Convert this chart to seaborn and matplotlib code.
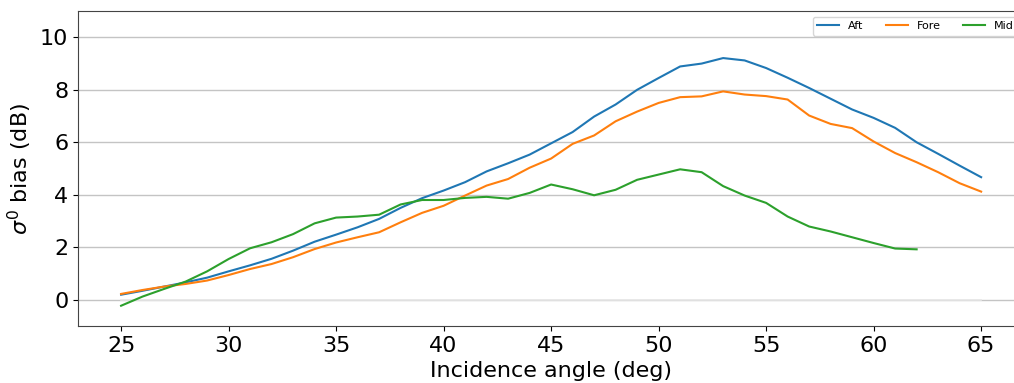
import matplotlib.pyplot as plt
import numpy as np
import pandas as pd
import seaborn as sns

# incidence angles (deg)
angles = list(range(25, 66))

aft = [0.19, 0.34, 0.50, 0.66, 0.84, 1.08, 1.31, 1.56, 1.87, 2.21,
       2.48, 2.76, 3.08, 3.50, 3.87, 4.16, 4.48, 4.89, 5.20, 5.53,
       5.96, 6.39, 6.98, 7.44, 8.00, 8.45, 8.89, 9.00, 9.21, 9.12,
       8.83, 8.46, 8.07, 7.66, 7.25, 6.93, 6.55, 6.00, 5.56, 5.11,
       4.67]
fore = [0.22, 0.37, 0.50, 0.60, 0.73, 0.94, 1.17, 1.36, 1.62, 1.93,
        2.18, 2.38, 2.57, 2.95, 3.31, 3.58, 3.97, 4.35, 4.60, 5.03,
        5.38, 5.94, 6.26, 6.80, 7.17, 7.50, 7.72, 7.75, 7.94, 7.82,
        7.76, 7.63, 7.02, 6.70, 6.54, 6.03, 5.59, 5.24, 4.86, 4.44,
        4.12]
# Mid only goes up to 62 deg
mid = [-0.23, 0.12, 0.41, 0.69, 1.08, 1.55, 1.96, 2.19, 2.50, 2.91,
       3.13, 3.17, 3.24, 3.63, 3.80, 3.80, 3.88, 3.92, 3.85, 4.07,
       4.39, 4.21, 3.98, 4.19, 4.57, 4.77, 4.97, 4.86, 4.33, 3.97,
       3.69, 3.17, 2.79, 2.60, 2.38, 2.16, 1.95, 1.92]

rows = []
for name, vals in [("Aft", aft), ("Fore", fore), ("Mid", mid)]:
    for a, v in zip(angles, vals):
        rows.append({"angle": a, "bias": v, "beam": name})
df = pd.DataFrame(rows)

fig = plt.figure(figsize=(10.14, 3.83), dpi=100)
ax = fig.add_axes([0.077, 0.149, 0.933, 0.822])

ax.grid(axis="y", color="#c4c4c4", linewidth=1.0)
ax.set_axisbelow(True)
ax.plot(angles, np.zeros(len(angles)), color="#e6e6e6", linewidth=1.2, zorder=1.5)

sns.lineplot(data=df, x="angle", y="bias", hue="beam", palette="tab10",
             linewidth=1.5, ax=ax)

ax.set_xlim(23, 67)
ax.set_ylim(-1, 11)
ax.set_xticks(range(25, 66, 5))
ax.set_yticks(range(0, 11, 2))
ax.tick_params(labelsize=16)
ax.set_xlabel("Incidence angle (deg)", fontsize=16)
ax.set_ylabel(r"$\sigma^0$ bias (dB)", fontsize=16)
for s in ax.spines.values():
    s.set_color("#444444")

ax.legend(loc="upper right", ncol=3, fontsize=8, title=None)

fig.savefig("out.png", dpi=100)
